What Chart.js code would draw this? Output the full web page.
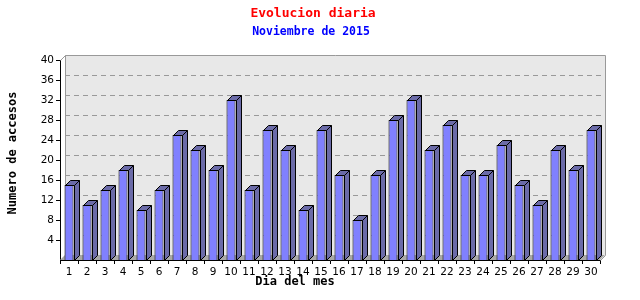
<!DOCTYPE html>
<html>
<head>
<meta charset="utf-8">
<script src="https://cdn.jsdelivr.net/npm/chart.js@4"></script>
<style>
  html, body { margin: 0; padding: 0; background: #fff; }
  canvas { display: block; }
</style>
</head>
<body>
<canvas id="chart" width="640" height="300"></canvas>
<script>
const days = ['1','2','3','4','5','6','7','8','9','10','11','12','13','14','15',
              '16','17','18','19','20','21','22','23','24','25','26','27','28','29','30']
const accesses = [15, 11, 14, 18, 10, 14, 25, 22, 18, 32, 14, 26, 22, 10, 26,
                  17, 8, 17, 28, 32, 22, 27, 17, 17, 23, 15, 11, 22, 18, 26]
const yTicks = [4, 8, 12, 16, 20, 24, 28, 32, 36, 40]

const DEPTH = 5
const monoBold = px => `bold ${px}px "DejaVu Sans Mono"`

// back wall, floor and dashed grid, shifted by the 3D depth
const wallPlugin = {
    id: 'wall',
    beforeDatasetsDraw(chart) {
        const {ctx, chartArea: a, scales: {y}} = chart
        const d = DEPTH
        ctx.save()
        ctx.fillStyle = '#e8e8e8'
        ctx.fillRect(a.left + d, a.top - d, a.right - a.left, a.bottom - a.top)
        // floor
        ctx.fillStyle = '#a8a8a8'
        ctx.beginPath()
        ctx.moveTo(a.left, a.bottom)
        ctx.lineTo(a.right, a.bottom)
        ctx.lineTo(a.right + d, a.bottom - d)
        ctx.lineTo(a.left + d, a.bottom - d)
        ctx.closePath()
        ctx.fill()
        // grid
        ctx.strokeStyle = '#999'
        ctx.lineWidth = 1
        ctx.setLineDash([5, 4])
        yTicks.forEach(v => {
            if (v === 40) return
            const py = Math.round(y.getPixelForValue(v) - d) + 0.5
            ctx.beginPath()
            ctx.moveTo(a.left + d, py)
            ctx.lineTo(a.right + d, py)
            ctx.stroke()
        })
        ctx.setLineDash([])
        // wall border
        ctx.strokeStyle = '#999'
        ctx.beginPath()
        ctx.moveTo(a.left + 0.5, a.top + 0.5)
        ctx.lineTo(a.left + d + 0.5, a.top - d + 0.5)
        ctx.lineTo(a.right + d + 0.5, a.top - d + 0.5)
        ctx.lineTo(a.right + d + 0.5, a.bottom - d + 0.5)
        ctx.lineTo(a.right + 0.5, a.bottom + 0.5)
        ctx.stroke()
        ctx.beginPath()
        ctx.moveTo(a.left + d + 0.5, a.top - d + 0.5)
        ctx.lineTo(a.left + d + 0.5, a.bottom - d + 0.5)
        ctx.stroke()
        ctx.restore()
    }
}

// top and side faces of each bar
const barSidesPlugin = {
    id: 'barSides',
    afterDatasetsDraw(chart) {
        const {ctx} = chart
        const d = DEPTH
        ctx.save()
        ctx.fillStyle = '#6b6ba8'
        ctx.strokeStyle = '#000'
        ctx.lineWidth = 1
        chart.getDatasetMeta(0).data.forEach(bar => {
            const {x, y, base, width} = bar.getProps(['x', 'y', 'base', 'width'], true)
            const l = Math.round(x - width / 2) + 0.5
            const r = Math.round(x + width / 2) + 0.5
            const t = Math.round(y) + 0.5
            const b = Math.round(base) + 0.5
            ctx.beginPath()
            ctx.moveTo(l, t)
            ctx.lineTo(l + d, t - d)
            ctx.lineTo(r + d, t - d)
            ctx.lineTo(r + d, b - d)
            ctx.lineTo(r, b)
            ctx.lineTo(r, t)
            ctx.closePath()
            ctx.fill()
            ctx.stroke()
            ctx.beginPath()
            ctx.moveTo(r, t)
            ctx.lineTo(r + d, t - d)
            ctx.stroke()
        })
        ctx.restore()
    }
}

const textPlugin = {
    id: 'texts',
    afterDraw(chart) {
        const {ctx} = chart
        ctx.save()
        ctx.textAlign = 'center'
        ctx.textBaseline = 'middle'
        ctx.font = monoBold(13)
        ctx.fillStyle = '#ff0000'
        ctx.fillText('Evolucion diaria', 313, 14)
        ctx.font = monoBold(11.5)
        ctx.fillStyle = '#0000ff'
        ctx.fillText('Noviembre de 2015', 311, 32)
        ctx.fillStyle = '#000'
        ctx.font = monoBold(12)
        ctx.fillText('Dia del mes', 295, 282)
        ctx.translate(13, 153)
        ctx.rotate(-Math.PI / 2)
        ctx.fillText('Numero de accesos', 0, 0)
        ctx.restore()
    }
}

new Chart(document.getElementById('chart'), {
    type: 'bar',
    data: {
        labels: days,
        datasets: [{
            data: accesses,
            backgroundColor: '#8080ff',
            borderColor: '#000',
            borderWidth: 1,
            barPercentage: 0.5,
            categoryPercentage: 1
        }]
    },
    options: {
        responsive: false,
        animation: false,
        events: [],
        layout: {padding: {left: 0, right: 40, top: 60, bottom: 0}},
        plugins: {legend: {display: false}, title: {display: false}, tooltip: {enabled: false}},
        scales: {
            x: {
                offset: true,
                afterFit: s => { s.height = 40 },
                grid: {display: true, drawOnChartArea: false, offset: true, tickLength: 4, color: '#000'},
                border: {display: true, color: '#000'},
                ticks: {
                    color: '#000', padding: 2, maxRotation: 0, autoSkip: false,
                    font: {family: 'DejaVu Sans', size: 10.5}
                }
            },
            y: {
                min: 0,
                max: 40,
                afterFit: s => { s.width = 60 },
                afterBuildTicks: s => { s.ticks = yTicks.map(v => ({value: v})) },
                grid: {display: true, drawOnChartArea: false, tickLength: 4, color: '#000'},
                border: {display: true, color: '#000'},
                ticks: {
                    color: '#000', padding: 2,
                    font: {family: 'DejaVu Sans', size: 10.5}
                }
            }
        }
    },
    plugins: [wallPlugin, barSidesPlugin, textPlugin]
})
</script>
</body>
</html>
